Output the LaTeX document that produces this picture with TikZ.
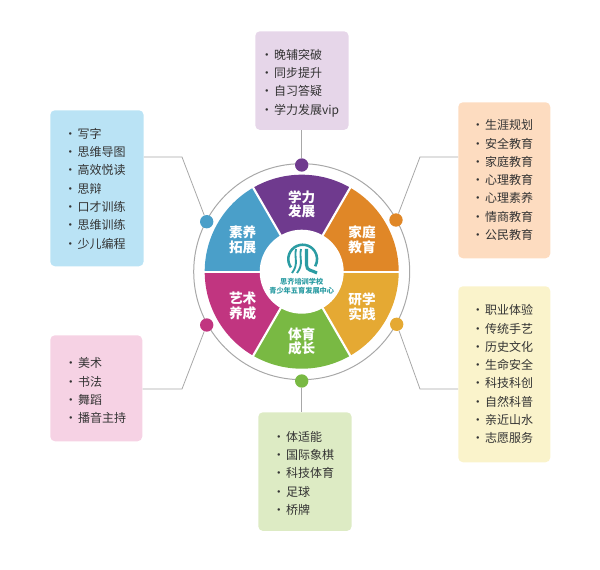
\documentclass[tikz,border=0pt]{standalone}
\usepackage{fontspec}
\setmainfont{Noto Sans CJK SC}
\definecolor{xuelicol}{HTML}{6F3A8E}
\definecolor{jiatingcol}{HTML}{E08727}
\definecolor{yanxuecol}{HTML}{E5A933}
\definecolor{tiyucol}{HTML}{79B943}
\definecolor{yishucol}{HTML}{C13580}
\definecolor{suyangcol}{HTML}{4A9FC9}
\definecolor{logocol}{HTML}{2B9CA3}
\definecolor{linecol}{HTML}{A8A8A8}
\definecolor{xueliback}{HTML}{E6D6E9}
\definecolor{jiatingback}{HTML}{FDDCC0}
\definecolor{yanxueback}{HTML}{FAF3CB}
\definecolor{tiyuback}{HTML}{DDEBC4}
\definecolor{yishuback}{HTML}{F6D2E4}
\definecolor{suyangback}{HTML}{BAE3F5}
\newcommand{\li}{·\kern1pt}
\setlength{\lineskiplimit}{-5pt}
\setlength{\normallineskiplimit}{-5pt}
\tikzset{
  listbox/.style={draw=none,rounded corners=3.5,anchor=north west,inner sep=0pt},
  listtext/.style={anchor=north west,inner sep=0pt,align=left,text=black!80,font=\fontsize{9}{13.7}\selectfont},
  dotnode/.style={circle,inner sep=0pt,minimum size=10pt},
  wedgetext/.style={inner sep=0pt,align=center,text=white,font=\fontsize{10.2}{10.9}\selectfont\bfseries},
  leader/.style={draw=linecol,line width=0.6pt},
}
\begin{document}
\begin{tikzpicture}[x=0.75pt,y=0.75pt,yscale=-1,xscale=1]
	\useasboundingbox (0,0) rectangle (600,570);

	% Ring
	\draw [linecol,line width=0.75pt] (301.7,271.7) circle [radius=108];

	% Wedges
	\begin{scope}[shift={(301.7,271.7)},yscale=-1]
	\fill [xuelicol] (60:97) arc [start angle=60,end angle=120,radius=97] -- (0,0) -- cycle;
	\fill [jiatingcol] (0:97) arc [start angle=0,end angle=60,radius=97] -- (0,0) -- cycle;
	\fill [suyangcol] (120:97) arc [start angle=120,end angle=180,radius=97] -- (0,0) -- cycle;
	\fill [yishucol] (180:97) arc [start angle=180,end angle=240,radius=97] -- (0,0) -- cycle;
	\fill [tiyucol] (240:97) arc [start angle=240,end angle=300,radius=97] -- (0,0) -- cycle;
	\fill [yanxuecol] (300:97) arc [start angle=300,end angle=360,radius=97] -- (0,0) -- cycle;
	\foreach \a in {0,60,120,180,240,300}
		\draw [white,line width=1.6pt] (0,0) -- (\a:100);
	\fill [white] (0,0) circle [radius=42];
	\end{scope}

	% Logo
	\draw [logocol,line width=1.9pt] (290.9,267.4) arc [start angle=-215,end angle=30,radius=14.4];
	\draw [logocol,line width=1.4pt] (296,249) .. controls (294,258) and (299,264) .. (292,273);
	\draw [logocol,line width=1.4pt] (301,249) .. controls (299,258) and (304,264) .. (297,273);
	\draw [logocol,line width=2.3pt] (306.5,249) -- (306.5,265) .. controls (306.5,271) and (312,270) .. (317,273);

	% Text Node
	\node (xueliword) [wedgetext] at (301.7,204.5) {学力\\发展};
	\node (jiatingword) [wedgetext] at (362,240) {家庭\\教育};
	\node (yanxueword) [wedgetext] at (362,306.5) {研学\\实践};
	\node (tiyuword) [wedgetext] at (301.7,341.5) {体育\\成长};
	\node (yishuword) [wedgetext] at (242.7,306) {艺术\\养成};
	\node (suyangword) [wedgetext] at (242.7,240) {素养\\拓展};
	\node (centerword) [inner sep=0pt,align=center,text=logocol,font=\fontsize{5.4}{6.8}\selectfont\bfseries] at (301.7,286.5) {思齐培训学校\\青少年五育发展中心};

	% Box
	\node (xuelibox) [listbox,fill=xueliback,minimum width=70pt,minimum height=74pt] at (255,31) {};
	\node (jiatingbox) [listbox,fill=jiatingback,minimum width=69pt,minimum height=117pt] at (458,102) {};
	\node (yanxuebox) [listbox,fill=yanxueback,minimum width=69pt,minimum height=132pt] at (458,286) {};
	\node (tiyubox) [listbox,fill=tiyuback,minimum width=70pt,minimum height=89pt] at (258,412) {};
	\node (yishubox) [listbox,fill=yishuback,minimum width=69pt,minimum height=79.5pt] at (50,335) {};
	\node (suyangbox) [listbox,fill=suyangback,minimum width=70pt,minimum height=117pt] at (50,110) {};

	% Text Node
	\node (xuelilist) [listtext] at (260.5,49) {\li 晚辅突破\\\li 同步提升\\\li 自习答疑\\\li 学力发展vip};
	\node (jiatinglist) [listtext] at (471.5,119.5) {\li 生涯规划\\\li 安全教育\\\li 家庭教育\\\li 心理教育\\\li 心理素养\\\li 情商教育\\\li 公民教育};
	\node (yanxuelist) [listtext] at (471.5,304.5) {\li 职业体验\\\li 传统手艺\\\li 历史文化\\\li 生命安全\\\li 科技科创\\\li 自然科普\\\li 亲近山水\\\li 志愿服务};
	\node (tiyulist) [listtext] at (272.5,431) {\li 体适能\\\li 国际象棋\\\li 科技体育\\\li 足球\\\li 桥牌};
	\node (yishulist) [listtext] at (64.5,357.5) {\li 美术\\\li 书法\\\li 舞蹈\\\li 播音主持};
	\node (suyanglist) [listtext] at (64,128) {\li 写字\\\li 思维导图\\\li 高效悦读\\\li 思辩\\\li 口才训练\\\li 思维训练\\\li 少儿编程};

	% Dots
	\node (xuelidot) [dotnode,fill=xuelicol] at (301.7,165) {};
	\node (jiatingdot) [dotnode,fill=jiatingcol] at (396,220) {};
	\node (yanxuedot) [dotnode,fill=yanxuecol] at (396.7,324.3) {};
	\node (tiyudot) [dotnode,fill=tiyucol] at (301.7,381) {};
	\node (yishudot) [dotnode,fill=yishucol] at (206.7,325) {};
	\node (suyangdot) [dotnode,fill=suyangcol] at (206.7,221.7) {};

	% Elbows
	\coordinate (jiatingbend) at (420,157);
	\coordinate (yanxuebend) at (420,389);
	\coordinate (yishubend) at (182,389);
	\coordinate (suyangbend) at (182,157);

	% Connection
	\draw [leader] (xuelibox.south -| xuelidot) -- (xuelidot);
	\draw [leader] (tiyudot) -- (tiyubox.north -| tiyudot);
	\draw [leader] (jiatingbox.west |- jiatingbend) -- (jiatingbend) -- (jiatingdot);
	\draw [leader] (yanxuebox.west |- yanxuebend) -- (yanxuebend) -- (yanxuedot);
	\draw [leader] (yishubox.east |- yishubend) -- (yishubend) -- (yishudot);
	\draw [leader] (suyangbox.east |- suyangbend) -- (suyangbend) -- (suyangdot);

	\end{tikzpicture}
\end{document}
